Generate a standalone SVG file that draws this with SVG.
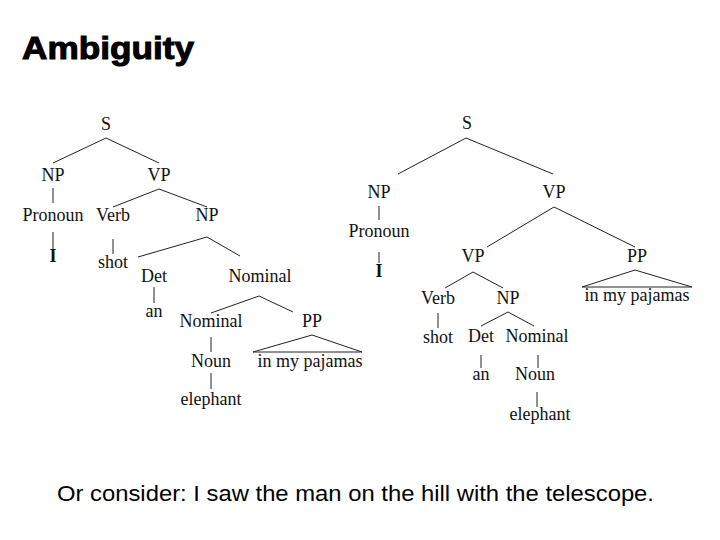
<svg xmlns="http://www.w3.org/2000/svg" width="720" height="540" viewBox="0 0 720 540">
<style>
.t{font-family:"Liberation Serif","Times New Roman",serif;font-size:18px;fill:#111;text-anchor:middle}
.b{font-weight:bold}
.c line,.c polygon{stroke:#222;stroke-width:1;fill:none}
.title{font-family:"Liberation Sans",Arial,sans-serif;font-weight:bold;font-size:31px;fill:#000;stroke:#000;stroke-width:1}
.cap{font-family:"Liberation Sans",Arial,sans-serif;font-size:21.5px;fill:#000}
</style>
<rect width="720" height="540" fill="#fff"/>
<text class="title" x="22" y="59" textLength="172" lengthAdjust="spacingAndGlyphs">Ambiguity</text>
<g class="c" id="connectors">
<line x1="106" y1="138" x2="53" y2="163"/><line x1="106" y1="138" x2="159" y2="163"/>
<line x1="53" y1="188" x2="53" y2="203"/>
<line x1="53" y1="232" x2="53" y2="249"/>
<line x1="159" y1="189" x2="113" y2="207"/><line x1="159" y1="189" x2="207" y2="207"/>
<line x1="113" y1="239" x2="113" y2="254"/>
<line x1="207" y1="237" x2="138" y2="257"/><line x1="207" y1="237" x2="240" y2="256"/>
<line x1="154" y1="287" x2="154" y2="303"/>
<line x1="259" y1="296" x2="211" y2="313"/><line x1="259" y1="296" x2="293" y2="312"/>
<line x1="211" y1="337" x2="211" y2="352"/>
<line x1="211" y1="373" x2="211" y2="389"/>
<polygon points="312,335 253,352 362,352"/>
<line x1="466" y1="138" x2="398" y2="174"/><line x1="466" y1="138" x2="553" y2="174"/>
<line x1="379" y1="206" x2="379" y2="220"/>
<line x1="379" y1="252" x2="379" y2="263"/>
<line x1="554" y1="207" x2="487" y2="247"/><line x1="554" y1="207" x2="635" y2="247"/>
<line x1="473" y1="272" x2="445" y2="288"/><line x1="473" y1="272" x2="503" y2="288"/>
<line x1="438" y1="313" x2="438" y2="328"/>
<line x1="508" y1="312" x2="481" y2="326"/><line x1="508" y1="312" x2="534" y2="326"/>
<line x1="481" y1="355" x2="481" y2="368"/>
<line x1="538" y1="355" x2="538" y2="368"/>
<line x1="537" y1="392" x2="537" y2="407"/>
<polygon points="635,270 582,287 692,287"/>
</g>
<g id="L_S"><text class="t" x="106" y="130">S</text></g>
<g id="L_NP"><text class="t" x="53" y="181">NP</text></g>
<g id="L_VP"><text class="t" x="159" y="181">VP</text></g>
<g id="L_Pronoun"><text class="t" x="53" y="221">Pronoun</text></g>
<g id="L_I"><text class="t b" x="53" y="262">I</text></g>
<g id="L_Verb"><text class="t" x="113" y="221">Verb</text></g>
<g id="L_shot"><text class="t" x="113" y="268">shot</text></g>
<g id="L_NP2"><text class="t" x="207" y="221">NP</text></g>
<g id="L_Det"><text class="t" x="154" y="282">Det</text></g>
<g id="L_an"><text class="t" x="154" y="317">an</text></g>
<g id="L_Nominal"><text class="t" x="260" y="282">Nominal</text></g>
<g id="L_Nominal2"><text class="t" x="211" y="327">Nominal</text></g>
<g id="L_PP"><text class="t" x="312" y="327">PP</text></g>
<g id="L_Noun"><text class="t" x="211" y="367">Noun</text></g>
<g id="L_elephant"><text class="t" x="211" y="405">elephant</text></g>
<g id="L_pajamas"><text class="t" x="310" y="367">in my pajamas</text></g>
<g id="R_S"><text class="t" x="467" y="129">S</text></g>
<g id="R_NP"><text class="t" x="379" y="198">NP</text></g>
<g id="R_VP"><text class="t" x="554" y="198">VP</text></g>
<g id="R_Pronoun"><text class="t" x="379" y="237">Pronoun</text></g>
<g id="R_I"><text class="t b" x="379" y="277">I</text></g>
<g id="R_VP2"><text class="t" x="473" y="262">VP</text></g>
<g id="R_PP"><text class="t" x="637" y="262">PP</text></g>
<g id="R_pajamas"><text class="t" x="637" y="301">in my pajamas</text></g>
<g id="R_Verb"><text class="t" x="438" y="304">Verb</text></g>
<g id="R_NP2"><text class="t" x="508" y="304">NP</text></g>
<g id="R_shot"><text class="t" x="438" y="343">shot</text></g>
<g id="R_Det"><text class="t" x="481" y="342">Det</text></g>
<g id="R_Nominal"><text class="t" x="537" y="342">Nominal</text></g>
<g id="R_an"><text class="t" x="481" y="380">an</text></g>
<g id="R_Noun"><text class="t" x="535" y="380">Noun</text></g>
<g id="R_elephant"><text class="t" x="540" y="420">elephant</text></g>
<text class="cap" x="57" y="501" textLength="597" lengthAdjust="spacingAndGlyphs">Or consider: I saw the man on the hill with the telescope.</text>
</svg>
